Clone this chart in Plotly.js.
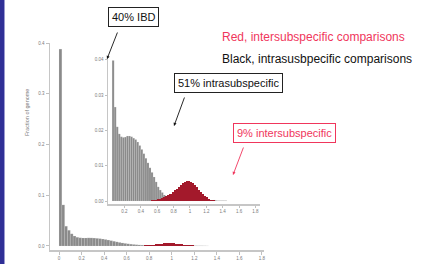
<!DOCTYPE html>
<html><head><meta charset="utf-8">
<script src="https://cdn.plot.ly/plotly-3.0.1.min.js"></script>
<style>html,body{margin:0;padding:0;background:#fff;overflow:hidden}#chart{width:426px;height:264px}</style>
</head><body><div id="chart"></div>
<script>
// ---- data (fraction of genome per IBS-distance bin) ----
const mainGrayBins = [0.0125,0.0375,0.0625,0.0875,0.1125,0.1375,0.1625,0.1875,0.2125,0.2375,0.2625,0.2875,0.3125,0.3375,0.3625,0.3875,0.4125,0.4375,0.4625,0.4875,0.5125,0.5375,0.5625,0.5875,0.6125,0.6375,0.6625,0.6875,0.7125,0.7375,0.7625,0.7875,0.8125,0.8375,0.8625,0.8875,0.9125,0.9375,0.9625,0.9875,1.0125,1.0375,1.0625,1.0875,1.1125,1.1375,1.1625,1.1875,1.2125,1.2375,1.2625,1.2875,1.3125];
const mainGray = [0.388,0.081,0.039,0.031,0.024,0.0196,0.0172,0.0162,0.0158,0.0158,0.0160,0.0159,0.0156,0.0151,0.0145,0.0137,0.0128,0.0117,0.0105,0.0093,0.0081,0.0070,0.0060,0.0051,0.0043,0.0036,0.0030,0.0025,0.0021,0.0018,0.0016,0.0014,0.0013,0.0012,0.0012,0.0011,0.0011,0.0010,0.0010,0.0010,0.0009,0.0009,0.0008,0.0008,0.0007,0.0007,0.0006,0.0006,0.0005,0.0004,0.0004,0.0003,0.0002];
const mainRedBins = [0.7125,0.7375,0.7625,0.7875,0.8125,0.8375,0.8625,0.8875,0.9125,0.9375,0.9625,0.9875,1.0125,1.0375,1.0625,1.0875,1.1125,1.1375,1.1625,1.1875,1.2125,1.2375,1.2625];
const mainRed = [0.0003,0.0006,0.0010,0.0015,0.0021,0.0028,0.0035,0.0041,0.0047,0.0051,0.0053,0.0053,0.0051,0.0047,0.0042,0.0036,0.0029,0.0022,0.0016,0.0011,0.0007,0.0004,0.0002];

const insetGrayBins = [0.0625,0.0875,0.1125,0.1375,0.1625,0.1875,0.2125,0.2375,0.2625,0.2875,0.3125,0.3375,0.3625,0.3875,0.4125,0.4375,0.4625,0.4875,0.5125,0.5375,0.5625,0.5875,0.6125,0.6375,0.6625,0.6875,0.7125,0.7375,0.7625,0.7875,0.8125,0.8375,0.8625,0.8875,0.9125,0.9375,0.9625,0.9875,1.0125,1.0375,1.0625,1.0875,1.1125,1.1375,1.1625,1.1875,1.2125,1.2375,1.2625,1.2875,1.3125,1.3375,1.3625,1.3875,1.4125,1.4375];
const insetGray = [0.0398,0.0266,0.0210,0.0190,0.0182,0.0180,0.0181,0.0184,0.0184,0.0182,0.0178,0.0174,0.0167,0.0157,0.0146,0.0134,0.0121,0.0108,0.0094,0.0081,0.0068,0.0054,0.0040,0.0031,0.0024,0.0017,0.0012,0.0008,0.0006,0.0005,0.0004,0.0004,0.0003,0.0003,0.0003,0.0003,0.0003,0.0003,0.0003,0.0003,0.0003,0.0003,0.0003,0.0003,0.0003,0.0003,0.0002,0.0002,0.0002,0.0002,0.0002,0.0001,0.0001,0.0001,0.0001,0.0001];
const insetRedBins = [0.5375,0.5625,0.5875,0.6125,0.6375,0.6625,0.6875,0.7125,0.7375,0.7625,0.7875,0.8125,0.8375,0.8625,0.8875,0.9125,0.9375,0.9625,0.9875,1.0125,1.0375,1.0625,1.0875,1.1125,1.1375,1.1625,1.1875,1.2125,1.2375,1.2625,1.2875,1.3125];
const insetRed = [0.0002,0.0003,0.0004,0.0005,0.0006,0.0008,0.0010,0.0013,0.0016,0.0020,0.0025,0.0030,0.0035,0.0040,0.0045,0.0050,0.0054,0.0056,0.0056,0.0054,0.0050,0.0045,0.0039,0.0032,0.0025,0.0019,0.0014,0.0010,0.0007,0.0004,0.0002,0.0001];

const mainYTicks = [0, 0.1, 0.2, 0.3, 0.4];
const mainXTicks = [0, 0.2, 0.4, 0.6, 0.8, 1, 1.2, 1.4, 1.6, 1.8];
const insetYTicks = [0, 0.01, 0.02, 0.03, 0.04];
const insetXTicks = [0.2, 0.4, 0.6, 0.8, 1, 1.2, 1.4, 1.6, 1.8];

const yTitle = 'Fraction of genome';
const labelRed = 'Red, intersubspecific comparisons';
const labelBlack = 'Black, intrasusbpecific comparisons';
const callIBD = '40% IBD';
const callIntra = '51% intrasubspecific';
const callInter = '9% intersubspecific';

// ---- layout helpers (pixel -> paper) ----
const W = 426, H = 264;
const px = v => v / W;
const py = v => 1 - v / H;

const GRAY = '#8a8a8a', RED = '#a3192b', PINK = '#f0365c';
const sep = {color: 'rgba(235,235,235,0.5)', width: 0.3};

const traces = [
  {type:'bar', x: mainGrayBins, y: mainGray, xaxis:'x', yaxis:'y', marker:{color:GRAY, line:sep}, width:0.025, hoverinfo:'skip'},
  {type:'bar', x: mainRedBins, y: mainRed, xaxis:'x', yaxis:'y', marker:{color:RED, line:{width:0}}, width:0.025, hoverinfo:'skip'},
  {type:'bar', x: insetGrayBins, y: insetGray, xaxis:'x2', yaxis:'y2', marker:{color:GRAY, line:sep}, width:0.025, hoverinfo:'skip'},
  {type:'bar', x: insetRedBins, y: insetRed, xaxis:'x2', yaxis:'y2', marker:{color:RED, line:{width:0}}, width:0.025, hoverinfo:'skip'}
];

const tickFont = {family:'Liberation Sans, Arial, sans-serif', size:4.5, color:'#7a7a7a'};
const axBase = {showgrid:false, zeroline:false, showline:true, linecolor:'#c6c6c6', linewidth:1.5,
  ticks:'outside', tickcolor:'#b0b0b0', tickwidth:0.8, tickfont:tickFont, fixedrange:true};

const C = {xanchor:'center', yanchor:'middle'};
const layout = {
  width: W, height: H,
  margin: {l:0, r:0, t:0, b:0},
  paper_bgcolor: '#ffffff', plot_bgcolor: 'rgba(0,0,0,0)',
  showlegend: false, barmode: 'overlay', bargap: 0,
  font: {family:'Liberation Sans, Arial, sans-serif'},
  xaxis: Object.assign({}, axBase, {domain:[px(50), px(264)], range:[-0.08, 1.818], tickvals: mainXTicks, ticklen:3, anchor:'y'}),
  yaxis: Object.assign({}, axBase, {domain:[py(250), py(43)], range:[-0.0079, 0.4], tickvals: mainYTicks, tickformat:'.1f', ticklen:3, anchor:'x'}),
  xaxis2: Object.assign({}, axBase, {domain:[px(108), px(260)], range:[0, 1.855], tickvals: insetXTicks, ticklen:2, anchor:'y2'}),
  yaxis2: Object.assign({}, axBase, {domain:[py(204), py(58)], range:[-0.00085, 0.0405], tickvals: insetYTicks, tickformat:'.2f', ticklen:2, anchor:'x2'}),
  shapes: [
    {type:'rect', xref:'paper', yref:'paper', x0:px(0), x1:px(4), y0:0, y1:1, fillcolor:'#2f2f96', line:{width:0}, layer:'below'},
    {type:'rect', xref:'paper', yref:'paper', x0:px(4), x1:px(5), y0:0, y1:1, fillcolor:'#9a9ad0', line:{width:0}, layer:'below'}
  ],
  annotations: [
    Object.assign({xref:'paper', yref:'paper', x:px(27), y:py(113), text:yTitle, textangle:-90, showarrow:false,
     font:{size:5.5, color:'#7a7a7a'}}, C),
    {xref:'paper', yref:'paper', x:px(220), y:py(37), xanchor:'left', yanchor:'middle', text:labelRed, showarrow:false,
     font:{size:12, color:PINK}},
    {xref:'paper', yref:'paper', x:px(220), y:py(59), xanchor:'left', yanchor:'middle', text:labelBlack, showarrow:false,
     font:{size:12, color:'#111'}},
    Object.assign({xref:'paper', yref:'paper', x:px(133.5), y:py(17), text:callIBD, showarrow:false,
     font:{size:11, color:'#111'}, bgcolor:'#fff', bordercolor:'#222', borderwidth:1, borderpad:3}, C),
    Object.assign({xref:'paper', yref:'paper', x:px(228.5), y:py(83), text:callIntra, showarrow:false,
     font:{size:11, color:'#111'}, bgcolor:'#fff', bordercolor:'#222', borderwidth:1, borderpad:3}, C),
    Object.assign({xref:'paper', yref:'paper', x:px(284), y:py(133), text:callInter, showarrow:false,
     font:{size:11, color:PINK}, bgcolor:'#fff', bordercolor:PINK, borderwidth:1, borderpad:3}, C),
    // arrows
    {xref:'paper', yref:'paper', x:px(107), y:py(59), ax:11, ay:-28, text:'', showarrow:true,
     arrowhead:2, arrowsize:0.7, arrowwidth:0.9, arrowcolor:'#111'},
    {xref:'paper', yref:'paper', x:px(174), y:py(126), ax:11, ay:-30, text:'', showarrow:true,
     arrowhead:2, arrowsize:0.7, arrowwidth:0.9, arrowcolor:'#111'},
    {xref:'paper', yref:'paper', x:px(233), y:py(175), ax:11, ay:-29, text:'', showarrow:true,
     arrowhead:2, arrowsize:0.7, arrowwidth:0.9, arrowcolor:PINK}
  ]
};

Plotly.newPlot('chart', traces, layout, {staticPlot:true, displayModeBar:false});
</script>
</body></html>
